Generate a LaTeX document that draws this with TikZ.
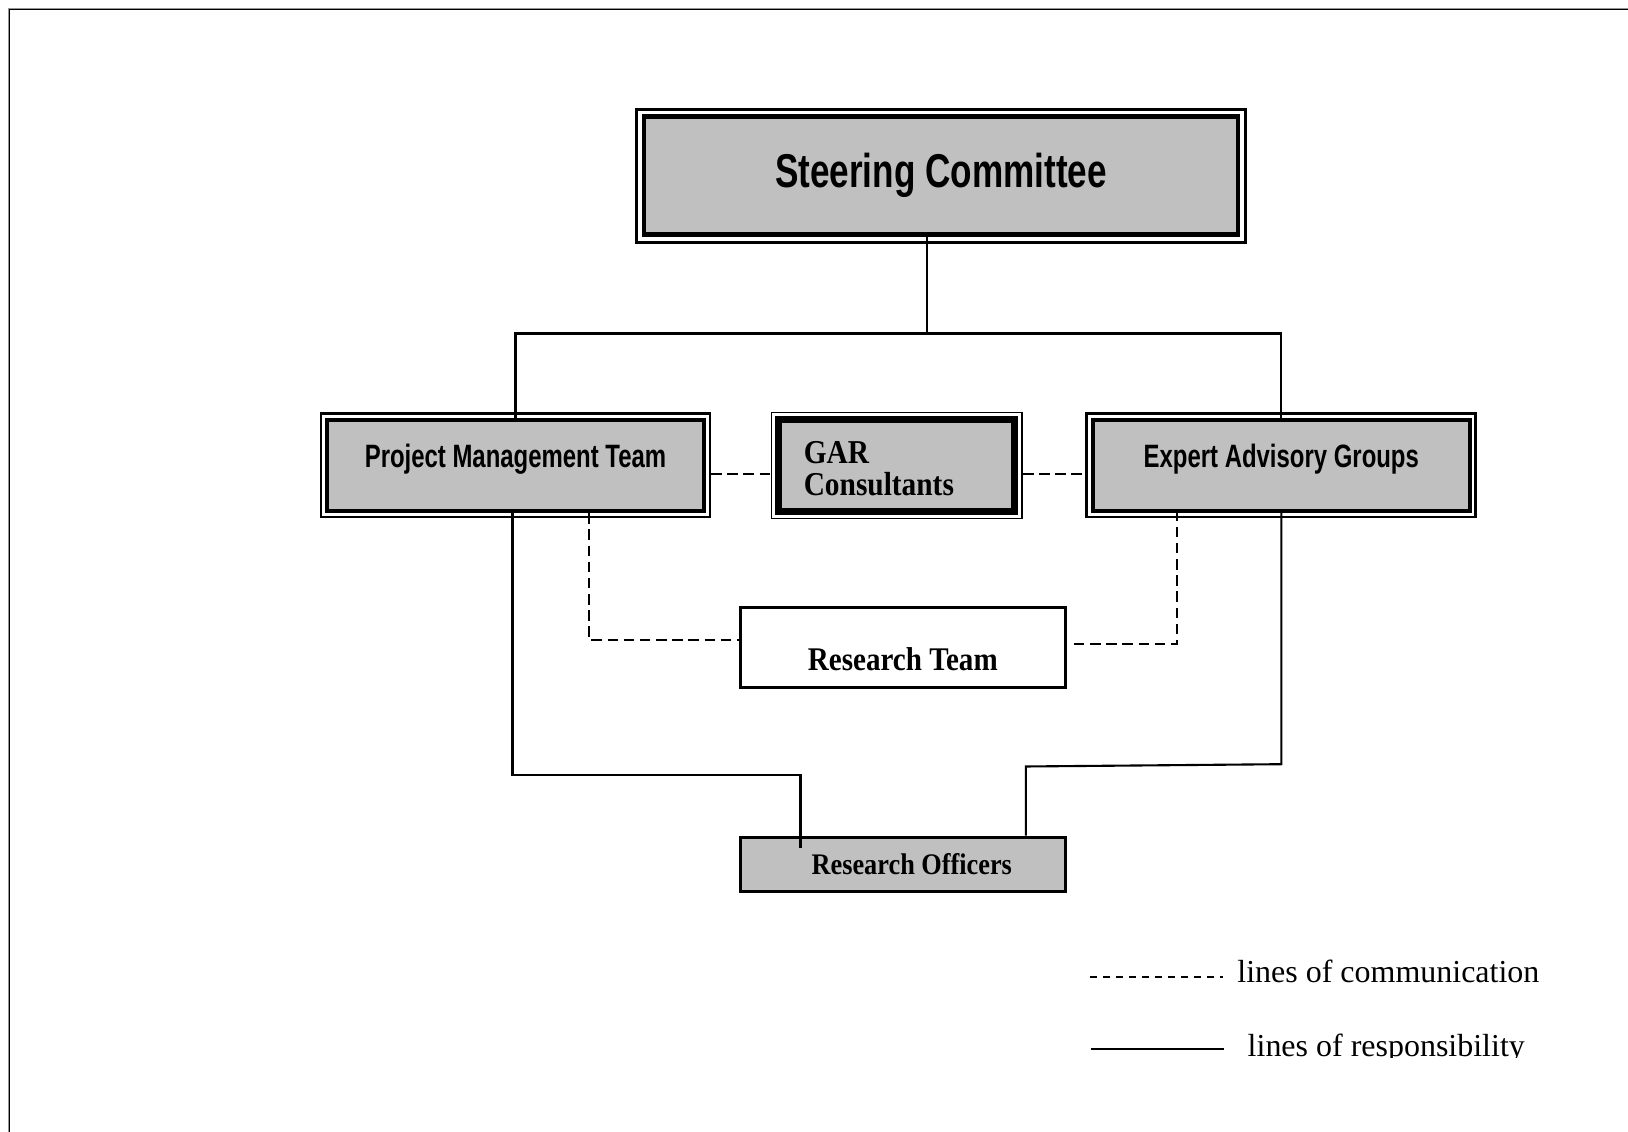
\documentclass[tikz,border=0pt]{standalone}
\usepackage{fontspec}
\setmainfont{Liberation Serif}
\newfontfamily\sansnarrow[FakeStretch=0.74]{Liberation Sans}
\newfontfamily\serifnarrow[FakeStretch=0.88]{Liberation Serif}
\usepackage{xcolor}
\definecolor{boxgray}{RGB}{192,192,192}
\definecolor{framegray}{RGB}{150,150,150}
\usetikzlibrary{positioning}

\begin{document}
\begin{tikzpicture}[
  resp/.style={line width=0.6pt},
  comm/.style={line width=0.6pt, dash pattern=on 3pt off 1.6pt},
  unitbox/.style={draw, line width=1.2pt, fill=boxgray, minimum width=3.77cm, minimum height=0.914cm,
    font=\sansnarrow\bfseries\fontsize{9.2}{11}\selectfont, text height=0.24cm, text depth=0.19cm},
  plainbox/.style={draw, line width=0.9pt, minimum width=3.25cm,
    font=\serifnarrow\bfseries\fontsize{9.4}{11}\selectfont}
]
  \useasboundingbox (0,0) rectangle (16.28,11.32);

  % Page frame
  \draw[framegray, line width=0.35pt] (0.083,-0.2) -- (0.083,11.232) -- (16.5,11.232);
  \draw[line width=0.4pt] (0.095,-0.2) -- (0.095,11.222) -- (16.5,11.222);

  % --- Boxes ---
  \node[draw, line width=1.35pt, fill=boxgray, minimum width=5.94cm, minimum height=1.18cm,
    font=\sansnarrow\bfseries\fontsize{13.5}{16}\selectfont] (steer) at (9.41,9.563) {Steering Committee};
  \draw[line width=0.85pt] ([shift={(-1.5pt,1.5pt)}]steer.north west) rectangle ([shift={(1.5pt,-1.5pt)}]steer.south east);

  \node[unitbox] (pmt) at (5.155,6.666) {Project Management Team};
  \node[unitbox] (eag) at (12.813,6.666) {Expert Advisory Groups};
  \foreach \b in {pmt,eag}
    \draw[line width=0.8pt] ([shift={(-1.1pt,1.1pt)}]\b.north west) rectangle ([shift={(1.1pt,-1.1pt)}]\b.south east);

  \node[draw, line width=2pt, fill=boxgray, minimum height=0.914cm, text width=1.857cm, inner xsep=0.25cm,
    align=left, font=\serifnarrow\bfseries\fontsize{9.5}{9.2}\selectfont] (gar) at (8.966,6.666) {\rule{0pt}{8pt}GAR\\Consultants};
  \draw[line width=0.4pt] ([shift={(-1.1pt,1.1pt)}]gar.north west) rectangle ([shift={(1.1pt,-1.1pt)}]gar.south east);

  \node[plainbox, minimum height=0.8cm, text height=0.46cm, text depth=0cm] (rteam) at (9.028,4.844) {Research Team};
  \node[plainbox, fill=boxgray, minimum height=0.54cm,
    font=\serifnarrow\bfseries\fontsize{8.5}{10}\selectfont] (ro) at (9.028,2.679) {\hspace*{0.18cm}Research Officers};

  % --- Lines of responsibility ---
  \coordinate (split) at (9.272,7.985);
  \draw[resp] (steer.south -| split) -- (split);
  \draw[resp] (pmt.north) |- (split) -| (eag.north);

  \coordinate (roleft) at (8.005,2.835);
  \draw[resp] ([xshift=-0.03cm]pmt.south) |- ([yshift=0.737cm]roleft) -- (roleft);

  \coordinate (eagbend) at (10.258,3.655);
  \draw[resp] (eag.south) -- ++(0,-2.51) -- (eagbend) -- (eagbend |- ro.north);

  % --- Lines of communication ---
  \draw[comm] ([shift={(0.05cm,-0.083cm)}]pmt.east) -- ([shift={(-0.05cm,-0.083cm)}]gar.west);
  \draw[comm] ([shift={(0.05cm,-0.083cm)}]gar.east) -- ([shift={(-0.05cm,-0.083cm)}]eag.west);
  \draw[comm] ([xshift=0.732cm]pmt.south) |- ([yshift=0.077cm]rteam.west);
  \draw[comm] ([shift={(0.07cm,0.036cm)}]rteam.east) -| ([xshift=-1.039cm]eag.south);

  % --- Legend ---
  \draw[comm, dash pattern=on 2pt off 1.7pt] (10.90,1.547) -- (12.23,1.547);
  \node[anchor=base west, inner sep=0pt, font=\fontsize{9.1}{11}\selectfont] (commtext) at (12.367,1.495) {lines of communication};
  \draw[resp] (10.91,0.83) -- (12.24,0.83);
  \begin{scope}
    \clip (12,0.74) rectangle (16,1.2);
    \node[anchor=base west, inner sep=0pt, font=\fontsize{9.1}{11}\selectfont] (resptext) at (12.47,0.758) {lines of responsibility};
  \end{scope}
\end{tikzpicture}
\end{document}
